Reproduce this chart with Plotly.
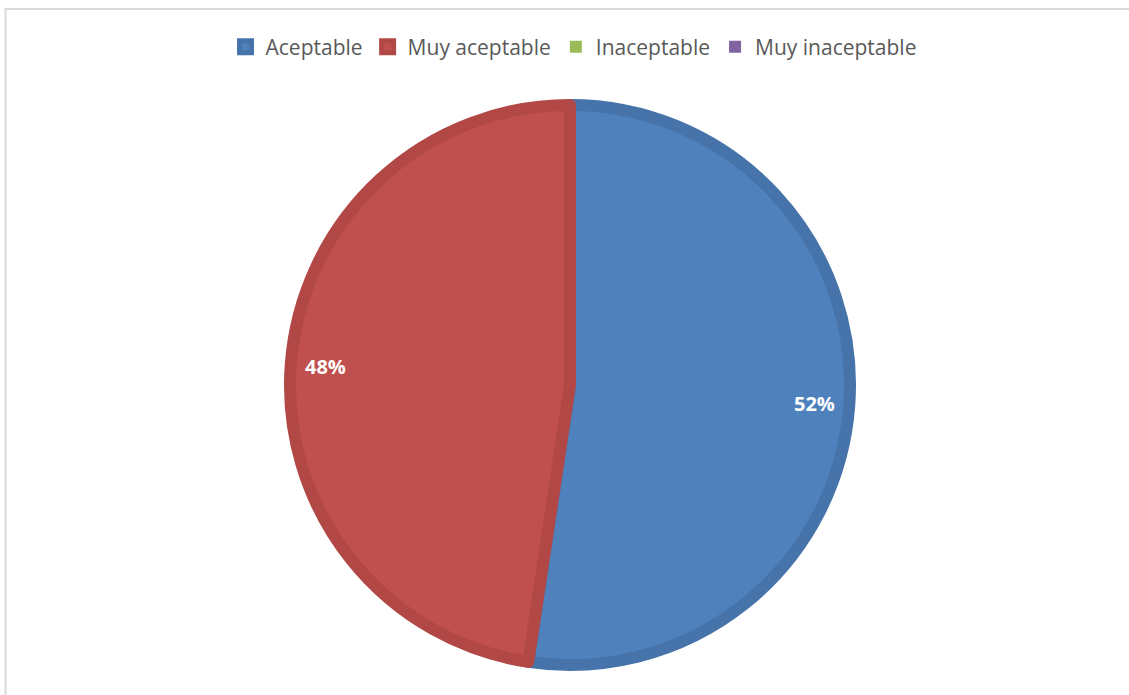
import math
import plotly.graph_objects as go

categories = ["Aceptable", "Muy aceptable", "Inaceptable", "Muy inaceptable"]
values = [11, 10, 0, 0]
fill_colors = ["#4F81BD", "#C0504D", "#9BBB59", "#8064A2"]
edge_colors = ["#4673AA", "#B24845", "#8CAA4F", "#735A92"]

W, H = 1129, 695
cx_px, cy_px = 570, 385
r_fill = 280
line_w = 12

fig = go.Figure()
fig.add_trace(go.Pie(
    labels=categories,
    values=values,
    sort=False,
    direction="clockwise",
    rotation=0,
    textinfo="none",
    hoverinfo="label+percent",
    marker=dict(colors=fill_colors,
                line=dict(color=edge_colors, width=[line_w if v > 0 else 0 for v in values])),
    domain=dict(x=[(cx_px - r_fill) / W, (cx_px + r_fill) / W],
                y=[1 - (cy_px + r_fill) / H, 1 - (cy_px - r_fill) / H]),
))

# percentage labels near the rim, placed at each slice's mid-angle
total = sum(values)
cum = 0
label_r = 245
for v in values:
    if v > 0:
        mid = (cum + v / 2) / total * 2 * math.pi
        x = (cx_px + label_r * math.sin(mid)) / W
        y = 1 - (cy_px - label_r * math.cos(mid)) / H
        fig.add_annotation(x=x, y=y, xref="paper", yref="paper", xanchor="center", yanchor="middle",
                           text="<b>%d%%</b>" % round(100 * v / total),
                           showarrow=False,
                           font=dict(family="Open Sans, Liberation Sans, sans-serif", size=20, color="white"))
    cum += v

# chart frame
fig.add_shape(type="line", xref="paper", yref="paper", x0=5 / W, x1=1, y0=1 - 9 / H, y1=1 - 9 / H,
              line=dict(color="#D9D9D9", width=2))
fig.add_shape(type="line", xref="paper", yref="paper", x0=5.5 / W, x1=5.5 / W, y0=0, y1=1 - 8 / H,
              line=dict(color="#D9D9D9", width=2))

fig.update_layout(
    width=W, height=H,
    margin=dict(l=0, r=0, t=0, b=0),
    paper_bgcolor="white",
    plot_bgcolor="white",
    showlegend=True,
    legend=dict(orientation="h", x=0.508, xanchor="center", y=1 - 47 / H, yanchor="middle",
                font=dict(family="Open Sans, Liberation Sans, sans-serif", size=21, color="#595959"),
                itemwidth=30, traceorder="normal"),
)

fig.write_html("out.html")
